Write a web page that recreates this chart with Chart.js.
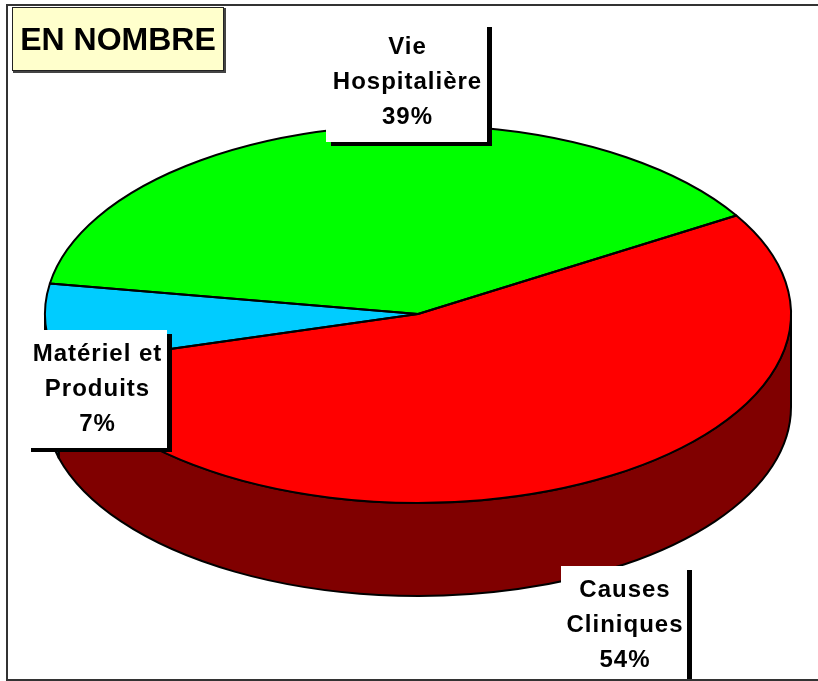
<!DOCTYPE html>
<html><head><meta charset="utf-8">
<script src="https://cdn.jsdelivr.net/npm/chart.js@4"></script>
<style>html,body{margin:0;padding:0;background:#fff;overflow:hidden}canvas{display:block}</style>
</head><body>
<canvas id="c" width="818" height="681"></canvas>
<script>
// ---- data ----
const categories = ['Causes Cliniques', 'Matériel et Produits', 'Vie Hospitalière'];
const labelLines = [['Causes', 'Cliniques'], ['Matériel et', 'Produits'], ['Vie', 'Hospitalière']];
const values = [54.4, 6.9, 38.7];
const topColors = ['#FF0000', '#00CCFF', '#00FF00'];
const sideColors = ['#800000', '#006680', '#008000'];
const titleText = 'EN NOMBRE';

// ---- layout (not data) ----
const CX = 418, CY = 314, RX = 373, RY = 189, DEPTH = 93;
const boxes = [
  {x: 561, y: 566, w: 126, h: 125},
  {x: 26, y: 330, w: 141, h: 118},
  {x: 326, y: 23, w: 161, h: 119}
];
const total = values.reduce((a, b) => a + b, 0);
const FONT = 'bold 24px "Liberation Sans", Arial, sans-serif';

function visibleRanges(s, e) {
  const out = [];
  for (let k = -2; k <= 2; k++) {
    const lo = Math.max(s, 2 * Math.PI * k), hi = Math.min(e, 2 * Math.PI * k + Math.PI);
    if (hi > lo) out.push([lo, hi]);
  }
  return out;
}

const pie3d = {
  id: 'pie3d',
  beforeDatasetsDraw(chart) {
    const ctx = chart.ctx;
    const meta = chart.getDatasetMeta(0);
    ctx.save();
    ctx.lineJoin = 'round';
    meta.data.forEach((arc, i) => {
      visibleRanges(arc.startAngle, arc.endAngle).forEach(([a0, a1]) => {
        ctx.beginPath();
        ctx.ellipse(CX, CY, RX, RY, 0, a0, a1, false);
        ctx.lineTo(CX + RX * Math.cos(a1), CY + DEPTH + RY * Math.sin(a1));
        ctx.ellipse(CX, CY + DEPTH, RX, RY, 0, a1, a0, true);
        ctx.closePath();
        ctx.fillStyle = sideColors[i];
        ctx.fill();
        ctx.lineWidth = 2;
        ctx.strokeStyle = '#000';
        ctx.stroke();
      });
    });
    ctx.restore();
    const a = meta.data[0];
    ctx.save();
    ctx.translate(CX, CY);
    ctx.scale(RX / a.outerRadius, RY / a.outerRadius);
    ctx.translate(-a.x, -a.y);
  },
  afterDatasetsDraw(chart) {
    const ctx = chart.ctx;
    ctx.restore();
    const meta = chart.getDatasetMeta(0);
    ctx.save();
    ctx.lineJoin = 'round';
    ctx.lineWidth = 2;
    ctx.strokeStyle = '#000';
    meta.data.forEach((arc) => {
      ctx.beginPath();
      ctx.moveTo(CX, CY);
      ctx.ellipse(CX, CY, RX, RY, 0, arc.startAngle, arc.endAngle, false);
      ctx.closePath();
      ctx.stroke();
    });
    ctx.restore();
  },
  afterDraw(chart) {
    const ctx = chart.ctx;
    ctx.save();
    // labels
    ctx.font = FONT;
    ctx.textAlign = 'center';
    ctx.textBaseline = 'alphabetic';
    try { ctx.letterSpacing = '1px'; } catch (e) {}
    boxes.forEach((b, i) => {
      ctx.fillStyle = '#000';
      ctx.fillRect(b.x + 5, b.y + 4, b.w, b.h);
      ctx.fillStyle = '#fff';
      ctx.fillRect(b.x, b.y, b.w, b.h);
      const lines = labelLines[i].concat([Math.round(values[i] / total * 100) + '%']);
      ctx.fillStyle = '#000';
      lines.forEach((t, j) => ctx.fillText(t, b.x + b.w / 2 + 1, b.y + 31 + j * 34.8));
    });
    // title
    try { ctx.letterSpacing = '0px'; } catch (e) {}
    ctx.fillStyle = '#FFFFCC';
    ctx.fillRect(12, 7, 212, 64);
    ctx.lineWidth = 1;
    ctx.strokeStyle = '#222';
    ctx.strokeRect(12.5, 7.5, 211, 63);
    ctx.fillStyle = '#444';
    ctx.fillRect(224, 8, 2, 65);
    ctx.fillRect(13, 71, 213, 2);
    ctx.fillStyle = '#000';
    ctx.font = 'bold 32px "Liberation Sans", Arial, sans-serif';
    ctx.fillText(titleText, 118, 49.5);
    // outer frame
    ctx.fillStyle = '#333';
    ctx.fillRect(6, 4, 812, 2);
    ctx.fillRect(6, 4, 2, 677);
    ctx.fillRect(6, 679, 812, 2);
    ctx.restore();
  }
};

new Chart(document.getElementById('c'), {
  type: 'pie',
  data: {
    labels: categories,
    datasets: [{
      data: values,
      backgroundColor: topColors,
      borderWidth: 0,
      clip: false
    }]
  },
  options: {
    responsive: false,
    devicePixelRatio: 1,
    animation: false,
    events: [],
    rotation: 58.6,
    layout: {padding: 0},
    plugins: {legend: {display: false}, tooltip: {enabled: false}}
  },
  plugins: [pie3d]
});
</script>
</body></html>
